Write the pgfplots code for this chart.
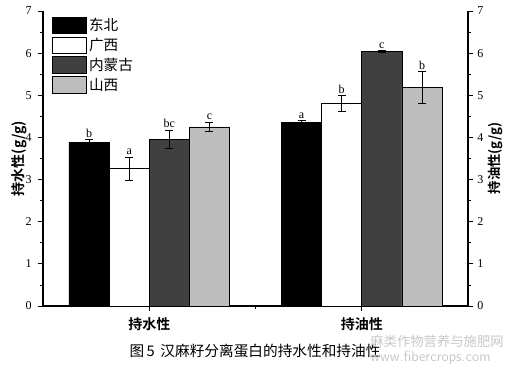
\documentclass[border=0pt]{standalone}
\usepackage{pgfplots}
\pgfplotsset{compat=1.18}
\usepackage{pgfplotstable}
\usepackage{fontspec}
\setmainfont{Liberation Serif}
\newfontfamily\cjk{Noto Sans CJK SC}
\newfontfamily\cjkb{Noto Sans CJK SC Bold}
\definecolor{darkg}{RGB}{64,64,64}
\definecolor{lightg}{RGB}{190,190,190}
\pgfplotstableread{
x y e top lab
0 3.88 0.07 3.95 b
1 4.36 0.04 4.40 a
}\tdb
\pgfplotstableread{
x y e top lab
0 3.26 0.27 3.53 a
1 4.80 0.19 4.99 b
}\tgx
\pgfplotstableread{
x y e top lab
0 3.96 0.21 4.17 bc
1 6.04 0.02 6.06 c
}\tnm
\pgfplotstableread{
x y e top lab
0 4.25 0.11 4.36 c
1 5.19 0.37 5.56 b
}\tsx
\begin{document}
\begin{tikzpicture}
\begin{axis}[name=ax,
  scale only axis, width=318.75pt, height=221.25pt,
  xmin=-0.5, xmax=1.5, ymin=0, ymax=7,
  axis x line*=bottom, axis y line*=left,
  ybar, bar width=0.189,
  xtick={0,1}, xticklabels={持水性,持油性},
  minor xtick={0.5},
  xticklabel style={font=\cjkb\fontsize{10.5}{12}\selectfont, yshift=-1pt},
  ytick={0,1,...,7}, minor ytick={0.5,1.5,...,6.5},
  tick align=outside, major tick length=4pt, minor tick length=2.5pt,
  tick style={black, line width=0.6pt},
  axis line style={line width=0.8pt},
  every axis plot/.append style={line width=0.5pt},
  /pgf/number format/assume math mode=true,
  yticklabel style={font=\fontsize{9}{10}\selectfont, xshift=-1pt},
  ylabel={\cjkb 持水性(g/g)}, ylabel style={font=\fontsize{10.5}{12}\selectfont, yshift=-8pt},
  legend style={at={(0.012,0.995)}, anchor=north west, draw=none, fill=none,
    font=\cjk\fontsize{11}{13}\selectfont, row sep=0.2pt, cells={anchor=west}},
  legend image code/.code={\draw[#1] (0pt,-6.3pt) rectangle (25pt,6.3pt);},
  nodes near coords, point meta=explicit symbolic,
  nodes near coords style={font=\fontsize{9}{10}\selectfont, anchor=south, inner sep=1.5pt},
]
\addplot[bar shift=-0.2835, fill=black, draw=black, nodes near coords=\empty,
  error bars/.cd, y dir=both, y explicit, error bar style={black, line width=0.6pt}, error mark options={rotate=90, mark size=3pt, black}]
  table[x=x, y=y, y error=e, meta=lab]{\tdb};
\addlegendentry{东北}
\addplot[bar shift=-0.0945, fill=white, draw=black, nodes near coords=\empty,
  error bars/.cd, y dir=both, y explicit, error bar style={black, line width=0.6pt}, error mark options={rotate=90, mark size=3pt, black}]
  table[x=x, y=y, y error=e, meta=lab]{\tgx};
\addlegendentry{广西}
\addplot[bar shift=0.0945, fill=darkg, draw=black, nodes near coords=\empty,
  error bars/.cd, y dir=both, y explicit, error bar style={black, line width=0.6pt}, error mark options={rotate=90, mark size=3pt, black}]
  table[x=x, y=y, y error=e, meta=lab]{\tnm};
\addlegendentry{内蒙古}
\addplot[bar shift=0.2835, fill=lightg, draw=black, nodes near coords=\empty,
  error bars/.cd, y dir=both, y explicit, error bar style={black, line width=0.6pt}, error mark options={rotate=90, mark size=3pt, black}]
  table[x=x, y=y, y error=e, meta=lab]{\tsx};
\addlegendentry{山西}
\addplot[forget plot, bar shift=-0.2835, draw=none, fill=none] table[x=x, y=top, meta=lab]{\tdb};
\addplot[forget plot, bar shift=-0.0945, draw=none, fill=none] table[x=x, y=top, meta=lab]{\tgx};
\addplot[forget plot, bar shift=0.0945, draw=none, fill=none] table[x=x, y=top, meta=lab]{\tnm};
\addplot[forget plot, bar shift=0.2835, draw=none, fill=none] table[x=x, y=top, meta=lab]{\tsx};
\end{axis}
\begin{axis}[
  scale only axis, width=318.75pt, height=221.25pt,
  xmin=-0.5, xmax=1.5, ymin=0, ymax=7,
  axis x line=none, axis y line*=right,
  ytick={0,1,...,7}, minor ytick={0.5,1.5,...,6.5},
  tick align=outside, major tick length=4pt, minor tick length=2.5pt,
  tick style={black, line width=0.6pt},
  axis line style={line width=0.8pt},
  /pgf/number format/assume math mode=true,
  yticklabel style={font=\fontsize{9}{10}\selectfont, xshift=-0.5pt},
]
\end{axis}
\node[font=\cjkb\fontsize{10}{12}\selectfont, rotate=90] at ([xshift=20.8pt]ax.east) {持油性(g/g)};
\node[font=\cjk\fontsize{11}{12}\selectfont, anchor=base] at ([xshift=159pt, yshift=-38pt]ax.south west) {图\,5\, 汉麻籽分离蛋白的持水性和持油性};
\node[font=\cjk\fontsize{10}{11}\selectfont, text=black!22, anchor=north east, align=left, inner sep=0pt] at ([xshift=27pt, yshift=-22pt]ax.south east) {麻类作物营养与施肥网\\{\sffamily\fontsize{11}{12}\selectfont www.fibercrops.com}};
\pgfresetboundingbox
\path[use as bounding box] ([xshift=-32.25pt,yshift=-45.75pt]ax.south west) rectangle ([xshift=27.75pt,yshift=8.25pt]ax.north east);
\end{tikzpicture}
\end{document}
